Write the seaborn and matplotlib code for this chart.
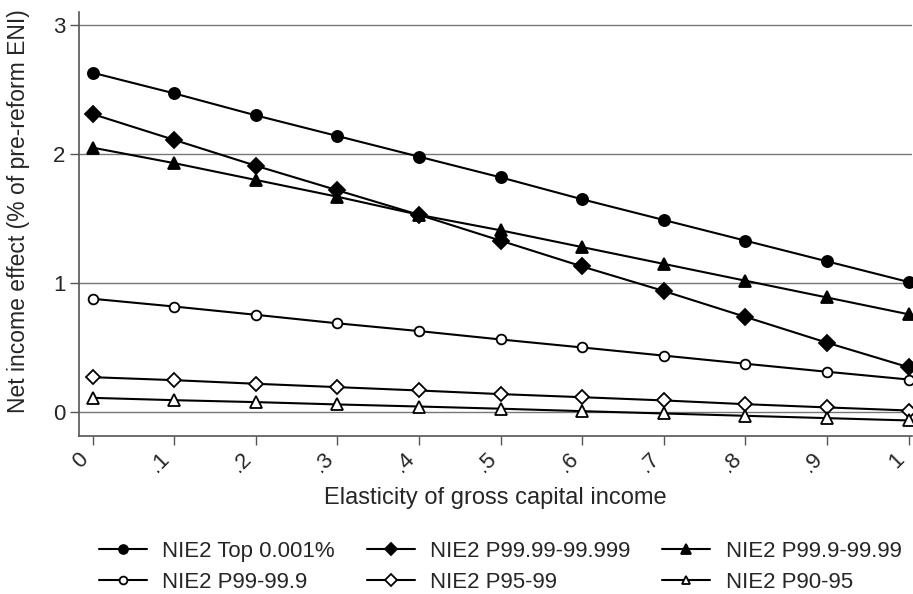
import numpy as np
import pandas as pd
import matplotlib
matplotlib.use("Agg")
import matplotlib.pyplot as plt
import seaborn as sns

# Elasticity grid and net income effects per income group
elasticity = [0.0, 0.1, 0.2, 0.3, 0.4, 0.5, 0.6, 0.7, 0.8, 0.9, 1.0]
top_0001 = [2.63, 2.47, 2.30, 2.14, 1.98, 1.82, 1.65, 1.49, 1.33, 1.17, 1.01]
p9999_99999 = [2.31, 2.11, 1.91, 1.72, 1.53, 1.33, 1.13, 0.94, 0.74, 0.54, 0.35]
p999_9999 = [2.05, 1.93, 1.80, 1.67, 1.53, 1.41, 1.28, 1.15, 1.02, 0.89, 0.76]
p99_999 = [0.88, 0.82, 0.756, 0.69, 0.63, 0.565, 0.503, 0.44, 0.377, 0.315, 0.255]
p95_99 = [0.273, 0.25, 0.222, 0.196, 0.17, 0.142, 0.118, 0.093, 0.064, 0.039, 0.015]
p90_95 = [0.113, 0.095, 0.08, 0.062, 0.046, 0.029, 0.01, -0.008, -0.026, -0.044, -0.062]

series_names = ["NIE2 Top 0.001%", "NIE2 P99.99-99.999", "NIE2 P99.9-99.99",
                "NIE2 P99-99.9", "NIE2 P95-99", "NIE2 P90-95"]
series_values = [top_0001, p9999_99999, p999_9999, p99_999, p95_99, p90_95]
x_tick_labels = ["0", ".1", ".2", ".3", ".4", ".5", ".6", ".7", ".8", ".9", "1"]
y_ticks = [0, 1, 2, 3]

df = pd.concat(
    [pd.DataFrame({"elasticity": elasticity, "effect": vals, "group": name})
     for name, vals in zip(series_names, series_values)],
    ignore_index=True,
)

sns.set_theme(style="white")
plt.rcParams["font.family"] = ["Liberation Sans", "DejaVu Sans"]

# marker, filled?, size
marker_styles = {
    "NIE2 Top 0.001%": ("o", True, 8),
    "NIE2 P99.99-99.999": ("D", True, 8),
    "NIE2 P99.9-99.99": ("^", True, 9),
    "NIE2 P99-99.9": ("o", False, 7),
    "NIE2 P95-99": ("D", False, 7.5),
    "NIE2 P90-95": ("^", False, 8),
}

fig = plt.figure(figsize=(9.13, 5.94), dpi=100)
ax = fig.add_axes([0.0862, 0.2665, 0.9125, 0.7133])

for name in series_names:
    m, filled, ms = marker_styles[name]
    sub = df[df["group"] == name]
    sns.lineplot(
        data=sub, x="elasticity", y="effect", ax=ax, color="black",
        linewidth=1.5, marker=m, markersize=ms, markeredgewidth=1.3,
        markerfacecolor="black" if filled else "white",
        markeredgecolor="black", label=name, legend=False, zorder=3,
    )

ax.set_xlim(-0.017, 1.004)
ax.set_ylim(-0.18, 3.10)
ax.set_xticks(elasticity)
ax.set_xticklabels(x_tick_labels, rotation=45, ha="right", va="top")
ax.set_yticks(y_ticks)
ax.set_yticklabels([str(t) for t in y_ticks])
ax.tick_params(axis="both", labelsize=16, length=6.5, width=1.0,
               color="#555555", direction="out", bottom=True, left=True, pad=3)
ax.grid(axis="y", color="#777777", linewidth=1.0, zorder=0)
ax.grid(axis="x", visible=False)
for side in ["top", "right"]:
    ax.spines[side].set_visible(False)
for side in ["left", "bottom"]:
    ax.spines[side].set_color("#555555")
    ax.spines[side].set_linewidth(1.2)

ax.set_xlabel("Elasticity of gross capital income", fontsize=17, labelpad=7)
ax.set_ylabel("Net income effect (% of pre-reform ENI)", fontsize=16.5)
ax.yaxis.set_label_coords(-0.058, 0.53)

handles, labels = ax.get_legend_handles_labels()
order = [0, 3, 1, 4, 2, 5]
fig.legend(
    [handles[i] for i in order], [labels[i] for i in order],
    loc="center", bbox_to_anchor=(0.548, 0.045), ncol=3, frameon=False,
    fontsize=16, handlelength=2.16, handletextpad=0.68, columnspacing=1.44,
    markerscale=0.8, labelspacing=0.45,
)

fig.savefig("out.png", dpi=100)
